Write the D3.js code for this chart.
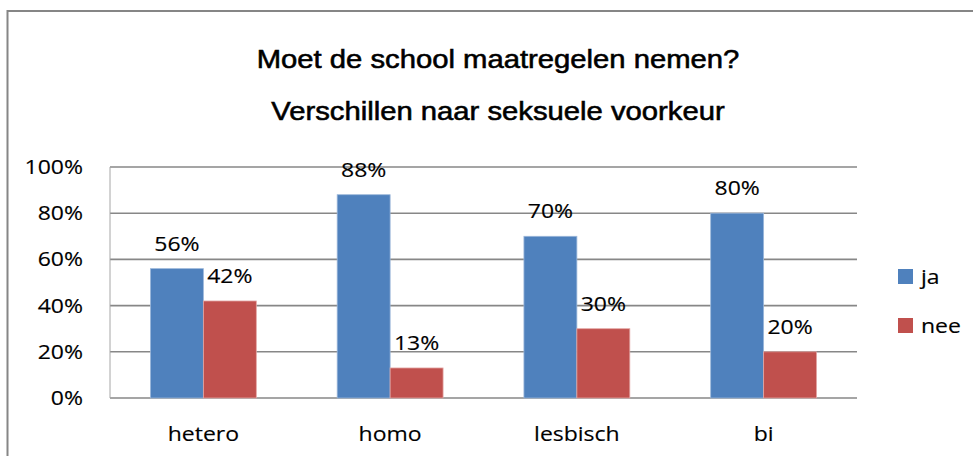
<!DOCTYPE html>
<html>
<head>
<meta charset="utf-8">
<script src="https://cdn.jsdelivr.net/npm/d3@7"></script>
<style>
  html, body { margin: 0; padding: 0; background: #fff; }
  svg { display: block; }
</style>
</head>
<body>
<svg id="chart" width="973" height="456"></svg>
<script>
// Chart data
const categories = ["hetero", "homo", "lesbisch", "bi"];
const seriesNames = ["ja", "nee"];
const jaValues = [56, 88, 70, 80];
const neeValues = [42, 13, 30, 20];
const yTicks = [0, 20, 40, 60, 80, 100];
const titleLines = ["Moet de school maatregelen nemen?", "Verschillen naar seksuele voorkeur"];

const colors = { ja: "#4F81BD", nee: "#C0504D" };
const edge = { ja: "#9BB7DA", nee: "#E3A7A5" };

const svg = d3.select("#chart");
const W = 973, H = 456;
const plot = { left: 110, right: 857, top: 167, bottom: 398 };

// Calibri-like body text, slightly widened
const bodyFont = "'Open Sans', 'DejaVu Sans', sans-serif";
const bodySize = 20;
const bodyStretch = 1.15;

function putText(g, str, x, y, anchor, opts = {}) {
  const sx = opts.stretch || bodyStretch;
  return g.append("text")
    .attr("transform", `translate(${x},${y}) scale(${sx},1)`)
    .attr("text-anchor", anchor)
    .attr("font-family", opts.family || bodyFont)
    .attr("font-size", opts.size || bodySize)
    .attr("fill", "#000")
    .attr("stroke", "#000")
    .attr("stroke-width", opts.weight || 0.15)
    .text(str);
}

// outer frame
svg.append("rect")
  .attr("x", 7.5).attr("y", 11)
  .attr("width", W + 20).attr("height", H + 20)
  .attr("fill", "none")
  .attr("stroke", "#868686")
  .attr("stroke-width", 2);

// title
const titleG = svg.append("g");
const titleBaselines = [68, 120];
titleLines.forEach((t, i) => {
  putText(titleG, t, 498, titleBaselines[i], "middle",
    { family: "'Liberation Sans', Arial, sans-serif", size: 25, stretch: 1.17, weight: 0.55 });
});

// scales
const x0 = d3.scaleBand()
  .domain(categories)
  .range([plot.left, plot.right])
  .paddingInner(0.433)
  .paddingOuter(0.2165);

const x1 = d3.scaleBand()
  .domain(seriesNames)
  .range([0, x0.bandwidth()]);

const y = d3.scaleLinear()
  .domain([0, 100])
  .range([plot.bottom, plot.top]);

// gridlines
svg.append("g")
  .selectAll("line")
  .data(yTicks)
  .join("line")
  .attr("x1", plot.left).attr("x2", plot.right)
  .attr("y1", d => y(d)).attr("y2", d => y(d))
  .attr("stroke", "#878787")
  .attr("stroke-width", 1.6);

// value axis line
svg.append("line")
  .attr("x1", plot.left).attr("x2", plot.left)
  .attr("y1", y(100)).attr("y2", y(0))
  .attr("stroke", "#A6A6A6")
  .attr("stroke-width", 1);

// y tick labels
const yAxisG = svg.append("g");
yTicks.forEach(t => {
  putText(yAxisG, t + "%", 83, y(t) + 7, "end");
});

// bars
const rows = categories.map((c, i) => ({
  category: c,
  values: [
    { key: "ja", value: jaValues[i] },
    { key: "nee", value: neeValues[i] }
  ]
}));

const groups = svg.append("g")
  .selectAll("g")
  .data(rows)
  .join("g")
  .attr("transform", d => `translate(${x0(d.category)},0)`);

groups.selectAll("rect")
  .data(d => d.values)
  .join("rect")
  .attr("x", d => x1(d.key))
  .attr("y", d => y(d.value))
  .attr("width", x1.bandwidth())
  .attr("height", d => y(0) - y(d.value))
  .attr("fill", d => colors[d.key])
  .attr("stroke", d => edge[d.key])
  .attr("stroke-width", 0.8);

// data labels
groups.each(function (d) {
  const g = d3.select(this);
  d.values.forEach(v => {
    putText(g, v.value + "%", x1(v.key) + x1.bandwidth() / 2, y(v.value) - 18, "middle");
  });
});

// category labels
const xAxisG = svg.append("g");
categories.forEach(c => {
  putText(xAxisG, c, x0(c) + x0.bandwidth() / 2, 441, "middle");
});

// legend
const legendG = svg.append("g");
const legendRows = [269, 318];
seriesNames.forEach((s, i) => {
  legendG.append("rect")
    .attr("x", 898).attr("y", legendRows[i])
    .attr("width", 15).attr("height", 15)
    .attr("fill", colors[s]);
  putText(legendG, s, 921, legendRows[i] + 15, "start");
});
</script>
</body>
</html>
